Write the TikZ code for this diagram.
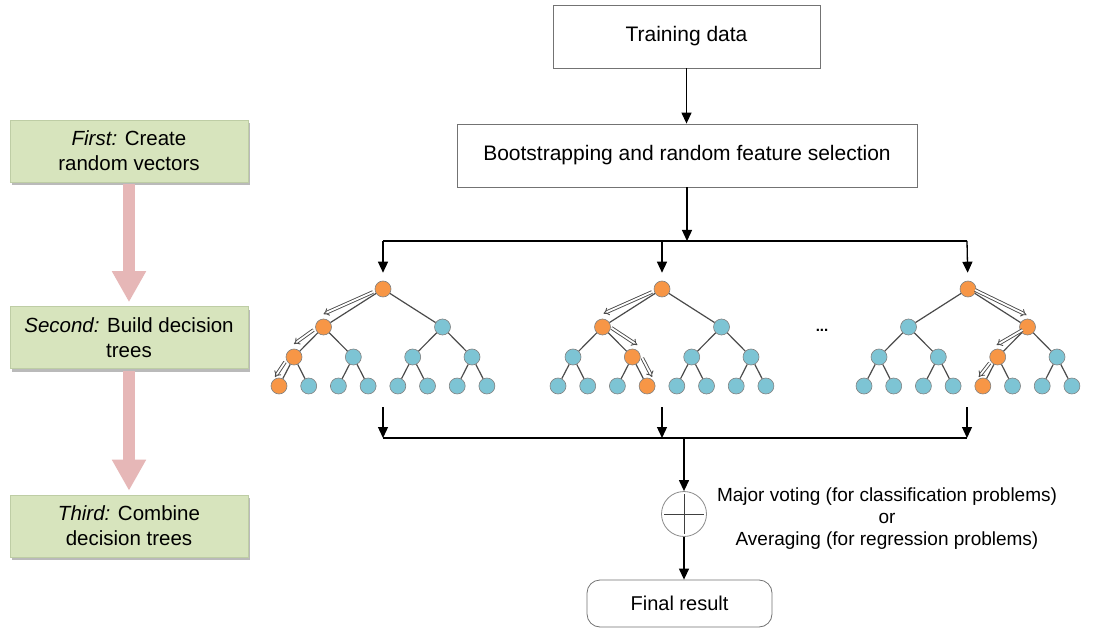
\documentclass[tikz,border=0pt]{standalone}
\usepackage{fontspec}
\setmainfont{Liberation Sans}
\usetikzlibrary{arrows.meta,calc,shadows}
\definecolor{boxgreen}{RGB}{215,228,189}
\definecolor{boxedge}{RGB}{190,205,165}
\definecolor{pinkarr}{RGB}{230,183,183}
\definecolor{orng}{RGB}{247,150,70}
\definecolor{blu}{RGB}{125,196,212}
\definecolor{edgegray}{RGB}{75,75,75}
\newcommand\mytree[5]{%
  \node[tn,fill=orng] (#1r) at (#2,289) {};
  \foreach \i/\dx in {1/-59.5,2/59.5}{%
    \ifnum\i=#3\relax\def\tcol{orng}\else\def\tcol{blu}\fi
    \node[tn,fill=\tcol] (#1a\i) at ({#2+\dx},327) {};}
  \foreach \i/\dx in {1/-89,2/-29.7,3/29.7,4/89}{%
    \ifnum\i=#4\relax\def\tcol{orng}\else\def\tcol{blu}\fi
    \node[tn,fill=\tcol] (#1b\i) at ({#2+\dx},357) {};}
  \foreach \i in {1,...,8}{%
    \pgfmathsetmacro\dx{-104+29.7*(\i-1)}
    \ifnum\i=#5\relax\def\tcol{orng}\else\def\tcol{blu}\fi
    \node[tn,fill=\tcol] (#1c\i) at ({#2+\dx},386) {};}
  \draw[tedge] (#1r)--(#1a1) (#1r)--(#1a2)
    (#1a1)--(#1b1) (#1a1)--(#1b2) (#1a2)--(#1b3) (#1a2)--(#1b4)
    (#1b1)--(#1c1) (#1b1)--(#1c2) (#1b2)--(#1c3) (#1b2)--(#1c4)
    (#1b3)--(#1c5) (#1b3)--(#1c6) (#1b4)--(#1c7) (#1b4)--(#1c8);
}
\begin{document}
\begin{tikzpicture}[x=1pt,y=-1pt,
  stepbox/.style={draw=black!55, line width=0.8pt, fill=white, align=center,
    font=\fontsize{21}{25}\selectfont},
  greenbox/.style={draw=boxedge, line width=0.6pt, fill=boxgreen, align=center,
    minimum width=238pt, minimum height=62pt, inner sep=2pt,
    font=\fontsize{20.5}{25}\selectfont,
    drop shadow={shadow xshift=2pt, shadow yshift=-3pt, fill=black!45, opacity=0.6}},
  pinkarrow/.style={draw=pinkarr, line width=12pt,
    -{Triangle[length=31pt,width=32pt]}},
  tn/.style={circle, draw=edgegray!70, line width=0.6pt, minimum size=16pt, inner sep=0pt},
  tedge/.style={draw=edgegray, line width=1.2pt},
  darr/.style={draw=edgegray, line width=0.9pt, double=white, double distance=1.8pt,
    -{Implies}},
  conn/.style={line width=1.3pt, -{Triangle[length=11pt,width=10pt]}},
  plain/.style={line width=1.3pt}
]
\useasboundingbox (0,0) rectangle (1100,628);
\fill[white] (0,0) rectangle (1100,628);

% left column
\node[greenbox] (first) at (129,151) {\textit{First:} Create\\random vectors};
\node[greenbox] (second) at (129,337.5) {\textit{Second:} Build decision\\trees};
\node[greenbox] (third) at (129,526) {\textit{Third:} Combine\\decision trees};
\draw[pinkarrow, shorten <=2pt, shorten >=4pt] (first.south) -- (second.north);
\draw[pinkarrow, shorten <=2pt, shorten >=4pt] (second.south) -- (third.north);

% top boxes
\node[stepbox, minimum width=267pt, minimum height=63pt] (train) at (686.5,36.5) {Training data};
\node[stepbox, minimum width=460pt, minimum height=63pt] (boot) at (687,155.5) {Bootstrapping and random feature selection};
\draw[conn] (train.south) -- (train.south |- boot.north);

% distribution line
\coordinate (tl) at (383,241);
\coordinate (tm) at (662,241);
\coordinate (tr) at (967,241);
\draw[plain] (tl) -- (tr);
\draw[conn] (boot.south) -- (boot.south |- tl);

% trees
\mytree{A}{383}{1}{1}{1}
\mytree{B}{662}{1}{2}{4}
\mytree{C}{968}{2}{3}{5}
\draw[conn, shorten >=8pt] (tl) -- (Ar);
\draw[conn, shorten >=8pt] (tm) -- (Br);
\draw[conn, shorten >=8pt] (tr) -- (Cr);

\node[font=\bfseries\fontsize{15}{15}\selectfont] (dots) at (822,330) {...};

% decision paths
\draw[darr] ($(Ar)+(-10,3)$) -- ($(Aa1)+(0,-13)$);
\draw[darr] ($(Aa1)+(-10,3)$) -- ($(Ab1)+(0,-13)$);
\draw[darr] ($(Ab1)+(-9,5)$) -- ($(Ac1)+(-4,-9)$);
\draw[darr] ($(Br)+(-10,3)$) -- ($(Ba1)+(1,-13.5)$);
\draw[darr] ($(Ba1)+(9,1)$) -- ($(Bb2)+(5,-12)$);
\draw[darr] ($(Bb2)+(10,1)$) -- ($(Bc4)+(5,-9)$);
\draw[darr] ($(Cr)+(7,1)$) -- ($(Ca2)+(-1,-12)$);
\draw[darr] ($(Ca2)+(-5,3)$) -- ($(Cb3)+(-1,-12)$);
\draw[darr] ($(Cb3)+(-8,6)$) -- ($(Cc5)+(-4,-9)$);

% collecting line
\coordinate (bl) at (383,438);
\coordinate (bm) at (662,438);
\coordinate (br) at (967,438);
\coordinate (bc) at (684,438);
\draw[plain] (bl) -- (br);
\draw[conn] (383,407) -- (bl);
\draw[conn] (662,407) -- (bm);
\draw[conn] (967,407) -- (br);

% combination
\node[circle, draw=black!45, line width=0.8pt, minimum size=45pt, inner sep=0pt] (plus) at (684,514) {};
\draw[line width=0.9pt, black!75] ($(plus.west)+(3,0)$) -- ($(plus.east)+(-3,0)$);
\draw[line width=0.9pt, black!75] ($(plus.north)+(0,3)$) -- ($(plus.south)+(0,-3)$);
\draw[conn] (bc) -- (plus.north);
\node[align=center, font=\fontsize{19}{22}\selectfont] (vote) at (887,519)
  {Major voting (for classification problems)\\or\\Averaging (for regression problems)};
\node[draw=black!55, line width=0.8pt, rounded corners=13pt, minimum width=185pt,
  minimum height=47pt, font=\fontsize{20}{24}\selectfont] (final) at (679.5,603.5) {Final result};
\draw[conn] (plus.south) -- (plus.south |- final.north);
\end{tikzpicture}
\end{document}
